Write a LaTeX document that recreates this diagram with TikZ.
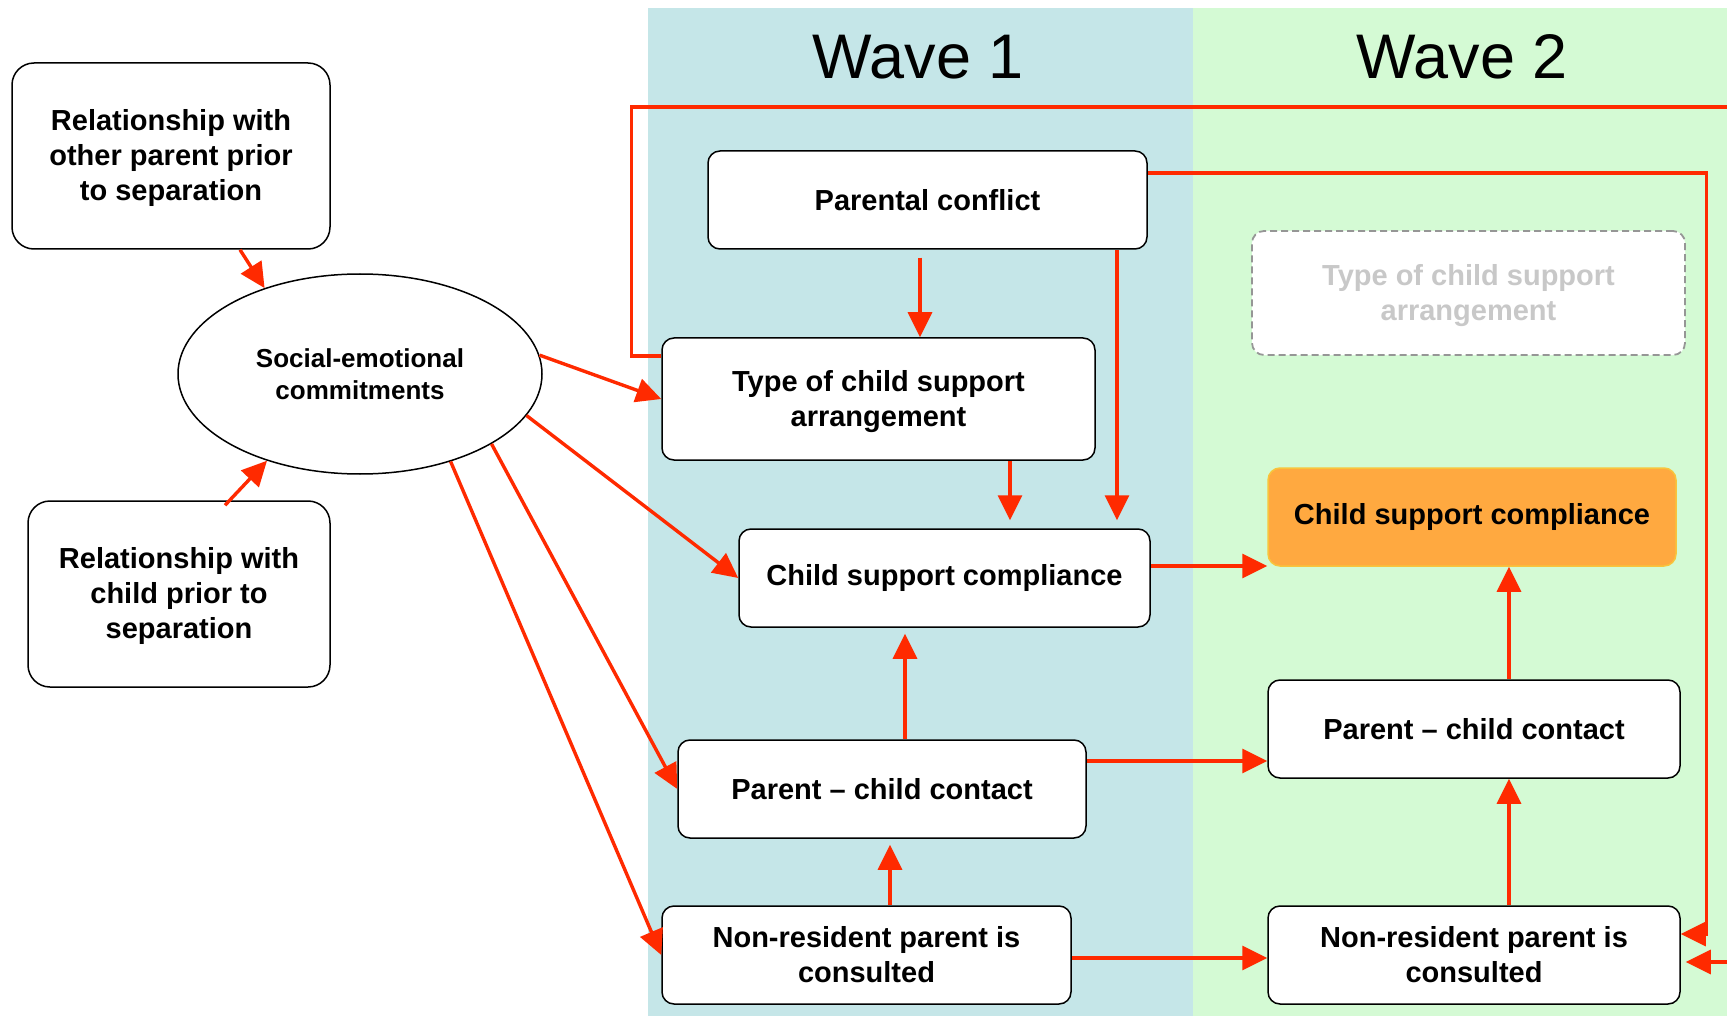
\documentclass[tikz,border=0pt]{standalone}
\usepackage{fontspec}
\setmainfont{Liberation Sans}
\usetikzlibrary{arrows.meta,shapes.geometric}
\definecolor{wone}{RGB}{197,230,232}
\definecolor{wtwo}{RGB}{212,250,212}
\definecolor{arrred}{RGB}{255,42,0}
\definecolor{orfill}{RGB}{255,169,64}
\definecolor{ordraw}{RGB}{248,196,60}
\definecolor{ghost}{RGB}{200,200,200}
\definecolor{ghostline}{RGB}{150,150,150}
\begin{document}
\begin{tikzpicture}[x=1pt,y=-1pt,
  box/.style={draw=black, line width=1.5pt, fill=white, rounded corners=12pt,
    align=center, inner sep=0pt, font=\bfseries\fontsize{29}{35}\selectfont},
  bigbox/.style={box, rounded corners=22pt},
  ghostbox/.style={box, draw=ghostline, line width=1.8pt, dash pattern=on 7pt off 4pt, text=ghost},
  hotbox/.style={box, draw=ordraw, fill=orfill},
  ell/.style={ellipse, draw=black, line width=1.5pt, fill=white, inner sep=0pt,
    align=center, font=\bfseries\fontsize{26}{32}\selectfont},
  title/.style={font=\fontsize{63}{70}\selectfont, anchor=base},
  arr/.style={draw=arrred, line width=3.4pt, -{Triangle[length=25pt,width=24pt]}}
]
\clip (0,0) rectangle (1727,1016);
\fill[white] (0,0) rectangle (1727,1016);
\fill[wone] (648,8) rectangle (1193,1016);
\fill[wtwo] (1193,8) rectangle (1727,1016);

\node[title] (tw1) at (918,79) {Wave 1};
\node[title] (tw2) at (1462,79) {Wave 2};

\node[bigbox, minimum width=318pt, minimum height=186pt] (relo) at (171,156)
  {\rule{0pt}{26pt}Relationship with\\other parent prior\\to separation};
\node[bigbox, minimum width=302pt, minimum height=186pt] (relc) at (179,594)
  {\rule{0pt}{26pt}Relationship with\\child prior to\\separation};
\node[ell, minimum width=364pt, minimum height=200pt] (soc) at (360,374)
  {Social-emotional\\commitments};

\node[box, minimum width=439pt, minimum height=98pt] (pc) at (927.5,200) {Parental conflict};
\node[box, minimum width=433pt, minimum height=122pt] (t1) at (878.5,399)
  {\rule{0pt}{26pt}Type of child support\\arrangement};
\node[box, minimum width=411pt, minimum height=98pt] (c1) at (944.5,578) {Child support compliance};
\node[box, minimum width=408pt, minimum height=98pt] (p1) at (882,789) {Parent -- child contact};
\node[box, minimum width=409pt, minimum height=98pt] (n1) at (866.5,955)
  {Non-resident parent is\\consulted};

\node[ghostbox, minimum width=433pt, minimum height=124pt] (t2) at (1468.5,293)
  {\rule{0pt}{26pt}Type of child support\\arrangement};
\node[hotbox, minimum width=408pt, minimum height=98pt] (c2) at (1472,517) {Child support compliance};
\node[box, minimum width=412pt, minimum height=98pt] (p2) at (1474,729) {Parent -- child contact};
\node[box, minimum width=412pt, minimum height=98pt] (n2) at (1474,955)
  {Non-resident parent is\\consulted};

\coordinate (loop) at (1750,107);

% left side
\draw[arr] ([xshift=69pt]relo.south) -- (soc.138);
\draw[arr] ([xshift=46pt,yshift=-5pt]relc.north) -- (soc.223);
\draw[arr] (soc.6) -- (t1.west);
\draw[arr] (soc.-14) -- (c1.west);
\draw[arr] (soc.-28) -- (p1.west);
\draw[arr] (soc.-44) -- (n1.west);

% wave 1 internal
\draw[arr] ([xshift=-7.5pt,yshift=-8pt]pc.south) -- ([xshift=41.5pt]t1.north);
\draw[arr, shorten >=8pt] ([xshift=189.5pt]pc.south) -- ([xshift=172.5pt]c1.north);
\draw[arr, shorten >=8pt] ([xshift=131.5pt]t1.south) -- ([xshift=65.5pt]c1.north);
\draw[arr, shorten >=6pt] ([xshift=23pt]p1.north) -- ([xshift=23pt]p1.north |- c1.south);
\draw[arr, shorten >=6pt] ([xshift=23.5pt]n1.north) -- ([xshift=23.5pt]n1.north |- p1.south);

% wave 1 -> wave 2
\draw[arr] ([yshift=12pt]c1.east) -- ([yshift=12pt]c1.east -| c2.west);
\draw[arr] ([yshift=28pt]p1.east) -- ([yshift=28pt]p1.east -| p2.west);
\draw[arr] ([yshift=-3pt]n1.east) -- ([yshift=-3pt]n1.east -| n2.west);

% wave 2 internal
\draw[arr] ([xshift=35pt]p2.north) -- ([xshift=35pt]p2.north |- c2.south);
\draw[arr] ([xshift=35pt]n2.north) -- ([xshift=35pt]n2.north |- p2.south);

% long connectors
\draw[arr] ([yshift=27pt]pc.east) -- ++(559,0) |- ([yshift=21pt]n2.east);
\draw[arr, shorten >=5pt] ([yshift=43pt]t1.west) -- ++(-30,0) |- (loop) |- ([yshift=-7pt]n2.east);
\end{tikzpicture}
\end{document}
